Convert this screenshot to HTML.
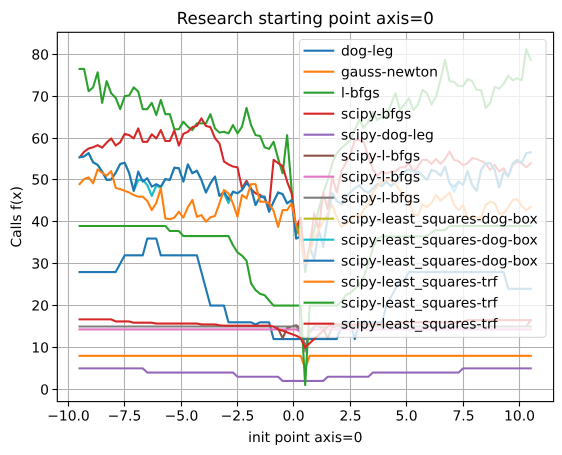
<!DOCTYPE html>
<html>
<head>
<meta charset="utf-8">
<style>
html,body{margin:0;padding:0;background:#fff;width:562px;height:455px;overflow:hidden}
svg{display:block}
text{font-family:"DejaVu Sans","Liberation Sans",sans-serif;fill:#000;text-rendering:geometricPrecision}
</style>
</head>
<body>
<svg id="chart" xmlns="http://www.w3.org/2000/svg" width="562" height="455" viewBox="0 0 562 455">
<rect x="0" y="0" width="562" height="455" fill="#fff"/>
<g id="grid"></g>
<g id="series"></g>
<g id="frame"></g>
<g id="ticks"></g>
<text x="305.3" y="24" font-size="16.67" text-anchor="middle">Research starting point axis=0</text>
<text x="305.3" y="442" font-size="13.89" text-anchor="middle">init point axis=0</text>
<text x="0" y="0" font-size="13.89" text-anchor="middle" transform="translate(21 216.8) rotate(-90)">Calls f(x)</text>
<g id="legend">
<rect x="299.5" y="39.5" width="246.5" height="297.8" rx="3" ry="3" fill="#fff" fill-opacity="0.8" stroke="#ccc" stroke-opacity="0.8" stroke-width="1.1"/>
</g>
</svg>
<script>
const xValues=[-9.5,-9.3,-9.1,-8.9,-8.7,-8.5,-8.3,-8.1,-7.9,-7.7,-7.5,-7.3,-7.1,-6.9,-6.7,-6.5,-6.3,-6.1,-5.9,-5.7,-5.5,-5.3,-5.1,-4.9,-4.7,-4.5,-4.3,-4.1,-3.9,-3.7,-3.5,-3.3,-3.1,-2.9,-2.7,-2.5,-2.3,-2.1,-1.9,-1.7,-1.5,-1.3,-1.1,-0.9,-0.7,-0.5,-0.3,-0.1,0.1,0.3,0.5,0.7,0.9,1.1,1.3,1.5,1.7,1.9,2.1,2.3,2.5,2.7,2.9,3.1,3.3,3.5,3.7,3.9,4.1,4.3,4.5,4.7,4.9,5.1,5.3,5.5,5.7,5.9,6.1,6.3,6.5,6.7,6.9,7.1,7.3,7.5,7.7,7.9,8.1,8.3,8.5,8.7,8.9,9.1,9.3,9.5,9.7,9.9,10.1,10.3,10.5];
const xTickValues=[-10,-7.5,-5,-2.5,0,2.5,5,7.5,10];
const xTickLabels=['−10.0','−7.5','−5.0','−2.5','0.0','2.5','5.0','7.5','10.0'];
const yTickValues=[0,10,20,30,40,50,60,70,80];
const yTickLabels=['0','10','20','30','40','50','60','70','80'];
const seriesNames=['dog-leg','gauss-newton','l-bfgs','scipy-bfgs','scipy-dog-leg','scipy-l-bfgs','scipy-l-bfgs','scipy-l-bfgs','scipy-least_squares-dog-box','scipy-least_squares-dog-box','scipy-least_squares-dog-box','scipy-least_squares-trf','scipy-least_squares-trf','scipy-least_squares-trf'];
const seriesColors=['#1f77b4','#ff7f0e','#2ca02c','#d62728','#9467bd','#8c564b','#e377c2','#7f7f7f','#bcbd22','#17becf','#1f77b4','#ff7f0e','#2ca02c','#d62728'];

const dogLeg=[28,28,28,28,28,28,28,28,28,30,32,32,32,32,32,36,36,36,32,32,32,32,32,32,32,32,32,28,24,20,20,20,20,16,16,16,16,16,16,15.5,16,16,16,12,12,12,12,12,12,12,12,12,12,12,12,12,12,12,15,16,16,12,16,16,16,16,16,16,20,22,24,26,26,28,28,28,28,28,28,28,28,28,28,28,28,28,28,28,28,28,28,28,28,28,28,24,24,24,24,24,24];
const gaussNewton=[8,8,8,8,8,8,8,8,8,8,8,8,8,8,8,8,8,8,8,8,8,8,8,8,8,8,8,8,8,8,8,8,8,8,8,8,8,8,8,8,8,8,8,8,8,8,8,8,8,8,5,8,8,8,8,8,8,8,8,8,8,8,8,8,8,8,8,8,8,8,8,8,8,8,8,8,8,8,8,8,8,8,8,8,8,8,8,8,8,8,8,8,8,8,8,8,8,8,8,8,8];
const lBfgs=[76.5,76.5,71.2,72.1,75.7,68.4,73.6,70.7,69.6,66.9,70,70.2,72.1,71.1,66.9,66.9,68.4,65.5,69.1,65.7,65.7,62.1,62.1,63.9,62.7,61.9,63.5,63.5,63.5,65.7,62.3,61.3,61.5,61.1,63.1,61.1,62.7,67.2,63.1,60.7,60.5,57.8,57.4,59.1,55.1,51.6,60.7,47.6,37,40,28,34,38,43,46.8,50,54,56.4,57.6,58.5,59.5,62,64.3,62.4,64,66.2,64.3,65,65,68,70.7,66.7,68,69.5,66.7,68,71.5,70.7,68,69.9,74,78.7,73.6,73.4,72.4,72.4,74.1,73.6,71.5,71.4,67.2,68.4,72.2,71.8,73,74.9,73.8,74.3,73.8,81.2,78.6];
const scipyBfgs=[55.4,56.7,57.5,57.8,58.3,57.7,58.9,59.9,58.2,59,61,60.7,59.9,62.3,59.1,59.1,60.9,59.9,61.9,59.3,59.3,61.8,58.2,61,61.5,62.6,62.9,64.7,62.9,62.6,60,58.7,54.4,53.7,53.2,53,48,49.8,47.8,46.8,46.4,45.6,43.6,54.8,54,53.3,49.6,46.8,38.5,41,30,34,42,38,47,43,50.7,47,52,54,56,59.5,59.5,59,55.5,52.5,51,52,51.5,52,52,53,53,54,52,53.2,54.8,54.8,53.8,55,53.8,55,56.8,54.8,54.5,53.5,54,55.2,55,54.5,54,52.4,53.6,52,52.8,50.8,53.6,54.4,54,53,54];
const scipyDogLeg=[5,5,5,5,5,5,5,5,5,5,5,5,5,5,5,4,4,4,4,4,4,4,4,4,4,4,4,4,4,4,4,4,4,4,4,3,3,3,3,3,3,3,3,3,3,2,2,2,2,2,2,2,2,2,2,3,3,3,3,3,3,3,3,3,3,4,4,4,4,4,4,4,4,4,4,4,4,4,4,4,4,4,4,4,4,5,5,5,5,5,5,5,5,5,5,5,5,5,5,5,5];
const scipyLBfgsA=[15,15,15,15,15,15,15,15,15,15,15,15,15,15,15,15,15,15,15,15,15,15,15,15,15,15,15,15,15,15,15,15,15,15,15,15,15,15,15,15,15,15,15,15,14.5,12.2,14.6,15,15.3,14.5,10,13.5,15,15,14.5,12.2,14.8,15,15,15,15,15,15,15,15,15,15,15,15,15,15,15,15,15,15,15,15,15,15,15,15,15,15,15,15,15,15,15,15,15,15,15,15,15,15,15,15,15,15,15,16.5];
const scipyLBfgsB=[14.3,14.3,14.3,14.3,14.3,14.3,14.3,14.3,14.3,14.3,14.3,14.3,14.3,14.3,14.3,14.3,14.3,14.3,14.3,14.3,14.3,14.3,14.3,14.3,14.3,14.3,14.3,14.3,14.3,14.3,14.3,14.3,14.3,14.3,14.3,14.3,14.3,14.3,14.3,14.3,14.3,14.3,14.3,14.3,14.3,14.3,14.3,14.3,14.3,13.7,9,13.5,14.3,14.3,14.3,14.3,14.3,14.3,14.3,14.3,14.3,14.3,14.3,14.3,14.3,14.3,14.3,14.3,14.3,14.3,14.3,14.3,14.3,14.3,14.3,14.3,14.3,14.3,14.3,14.3,14.3,14.3,14.3,14.3,14.3,14.3,14.3,14.3,14.3,14.3,14.3,14.3,14.3,14.3,14.3,14.3,14.3,14.3,14.3,14.3,14.3];
const scipyLBfgsC=[15,15,15,15,15,15,15,15,15,15,15,15,15,15,15,15,15,15,15,15,15,15,15,15,15,15,15,15,15,15,15,15,15,15,15,15,15,15,15,15,15,15,15,15,15,15,15,15,15,14,9.5,14,15,15,15,15,15,15,15,15,15,15,15,15,15,15,15,15,15,15,15,15,15,15,15,15,15,15,15,15,15,15,15,15,15,15,15,15,15,15,15,15,15,15,15,15,15,15,15,15,15];
const lsqDogBoxA=[55.4,55.6,56.4,54.2,53.6,52,50,50.1,51.7,53.8,54.1,51.6,47.4,50,50,48.8,46.2,48.6,48.2,50.2,50,52.9,52.8,49.6,53.7,51.6,52.2,50,47,49.2,50.8,46.2,46.8,44.5,47.2,46.8,47.6,49.3,48,44,46,46,42.4,44.8,47,46.6,44.4,45.2,36,36.5,29,34,31,38,34,41,46.9,45,44.2,46,47,48,48.7,47.5,46.9,48,49,48.5,49.6,48.5,49.5,51,52,52.4,52,52,51,50,52.4,52,51,53.2,49.2,47.2,49.6,48.8,52.1,48.8,47.4,52.4,54,54,52.4,48.2,52,50.8,54,54.8,54.1,56.4,56.6];
const lsqDogBoxB=[55.4,55.6,56.4,54.2,53.6,52,50,50.1,51.7,53.8,54.1,51.6,47.4,50,50,48.8,46.2,48.6,48.2,50.2,50,52.9,52.8,49.6,53.7,51.6,52.2,50,47,49.2,50.8,46.2,46.8,44.5,47.2,46.8,47.6,49.3,48,44,46,46,42.4,44.8,47,46.6,44.4,45.2,36,36.5,29,34,31,38,34,41,46.9,45,44.2,46,47,48,48.7,47.5,46.9,48,49,48.5,49.6,48.5,49.5,51,52,52.4,52,52,51,50,52.4,52,51,53.2,49.2,47.2,49.6,48.8,52.1,48.8,47.4,52.4,54,54,52.4,48.2,52,50.8,54,54.8,54.1,56.4,56.6];
const lsqDogBoxC=[55.4,55.6,56.4,54.2,53.6,52,50,50.1,51.7,53.8,54.1,51.6,47.4,52,49.6,50.4,48.4,49,48.4,50.2,50,52.9,52.8,49.6,53.7,51.6,52.2,50,47,49.2,50.8,46.2,47.2,45.4,47.2,46.8,47.6,49.3,48,44,46,46,42.4,44.8,47,46.6,44.4,45.2,36,36.5,29,34,31,38,34,41,46.9,45,44.2,46,47,48,48.7,47.5,46.9,48,49,48.5,49.6,48.5,49.5,51,52,52.4,52,52,51,50,52.4,52,51,53.2,49.2,48.4,49.6,48.8,52.1,48.8,47.4,52.4,54,54,52.4,48.2,52,50.8,54,54.8,54.1,56.4,56.6];
const lsqTrfA=[49,50.2,50.6,49.2,52.5,51.7,51,52.1,48.1,47.8,47.4,47,46.4,46,46,45,42.8,44.5,48,40.8,40.6,41,42.4,41,43.5,45.2,41.2,41.6,40,41.1,41.4,44.4,47.6,46.8,44.4,41.2,46.4,45.6,49,49,44.8,44.8,44.4,42.6,38.8,42.8,42.8,44.4,39.2,36,30,33,36,38,40,42,44,41,38.8,39.5,40.5,41.5,41,43,44,47,48.5,49.5,50,50,49,47.5,46,44.8,41.7,41.5,44.2,43.5,44.5,46.4,45,46,47,44,42.8,44,41,41,41,41,44,44.8,44.5,42,42,43.5,45.2,45.4,43.8,42.8,43.6];
const lsqTrfB=[39,39,39,39,39,39,39,39,39,39,39,39,39,39,39,39,39,39,39,39,37.8,37.8,37.8,36.6,36.6,36.6,36.6,36.6,36.6,36.6,36.6,36.6,36.6,36.6,34.4,32.7,31.9,30.7,25.3,23.7,22.8,22.5,21.2,20,20,20,20,20,20,20,1,20,20,20,20,20,20,20,21,22.5,23,24,25,27,30,33.7,36,36.5,36.5,36.5,36.5,36.5,36.5,36.5,36.5,36.5,36.5,36.5,37.5,38,38,38,39,39,39,39,39,39,39,39,39,39,39,39,39,39,39,39,39,39,39];
const lsqTrfC=[16.7,16.7,16.7,16.7,16.7,16.7,16.7,16.7,16.2,16.2,16.2,16.2,15.9,15.9,15.9,15.9,15.9,15.7,15.7,15.7,15.7,15.7,15.7,15.7,15.7,15.7,15.7,15.5,15.5,15.5,15.5,15.3,15.2,15.2,15.2,15.2,15.2,15.2,15.2,15.2,15.2,15.2,15.2,15,14.3,14,13.6,13.2,12.8,12.2,10,11,12,13,14,15,15.5,15.5,15.5,15.5,15.5,15.5,15.5,15.5,15.5,15.5,15.5,15.5,15.5,15.5,15.5,16,16,16,16,16,16,16,16,16,16,16,16,16,16,16,16.5,16.5,16.5,16.5,16.5,16.5,16.5,16.5,16.5,16.5,16.5,16.5,16.5,16.5,16.5];

const seriesValues=[dogLeg,gaussNewton,lBfgs,scipyBfgs,scipyDogLeg,scipyLBfgsA,scipyLBfgsB,scipyLBfgsC,lsqDogBoxA,lsqDogBoxB,lsqDogBoxC,lsqTrfA,lsqTrfB,lsqTrfC];

const axLeft=57.3,axRight=553.6,axTop=32.3,axBottom=401.6;
function xScale(v){return 293.9+22.56*v;}
function yScale(v){return 389.3-4.1875*v;}
function snap(p){return Math.floor(p)+0.5;}
const NS='http://www.w3.org/2000/svg';
function mk(tag,parent,attrs){
  const el=document.createElementNS(NS,tag);
  for(const k in attrs){el.setAttribute(k,attrs[k]);}
  parent.appendChild(el);
  return el;
}
const gridG=document.getElementById('grid');
const seriesG=document.getElementById('series');
const frameG=document.getElementById('frame');
const ticksG=document.getElementById('ticks');
const legendG=document.getElementById('legend');

xTickValues.forEach(function(v,i){
  const p=snap(xScale(v));
  const g=mk('line',gridG,{x1:p,x2:p,y1:axTop,y2:axBottom,stroke:'#b0b0b0','stroke-width':1.1});
  
  
  const t=mk('line',ticksG,{x1:p,x2:p,y1:axBottom,y2:axBottom+4.9,stroke:'#000','stroke-width':1.1});
  
  
  const l=mk('text',ticksG,{x:p,y:420.5,'font-size':13.89,'text-anchor':'middle'});
  
  
  l.textContent=xTickLabels[i];
});
yTickValues.forEach(function(v,i){
  const p=snap(yScale(v));
  const g=mk('line',gridG,{x1:axLeft,x2:axRight,y1:p,y2:p,stroke:'#b0b0b0','stroke-width':1.1});
  
  
  const t=mk('line',ticksG,{x1:axLeft-4.9,x2:axLeft,y1:p,y2:p,stroke:'#000','stroke-width':1.1});
  
  
  const l=mk('text',ticksG,{x:axLeft-8.3,y:p+5,'font-size':13.89,'text-anchor':'end'});
  
  
  l.textContent=yTickLabels[i];
});
seriesValues.forEach(function(vals,s){
  const pts=vals.map(function(v,i){return xScale(xValues[i]).toFixed(2)+','+yScale(v).toFixed(2);}).join(' ');
  const line=mk('polyline',seriesG,{points:pts,fill:'none',stroke:seriesColors[s],'stroke-width':2.08,'stroke-linejoin':'round','stroke-linecap':'square'});
  
  
});
const spine=mk('rect',frameG,{x:axLeft,y:axTop,width:axRight-axLeft,height:axBottom-axTop,fill:'none',stroke:'#000','stroke-width':1.1});



seriesNames.forEach(function(name,s){
  const cy=50.7+21*s;
  const h=mk('line',legendG,{x1:304.6,x2:333.2,y1:cy,y2:cy,stroke:seriesColors[s],'stroke-width':2.08,'stroke-linecap':'square'});
  
  
  const t=mk('text',legendG,{x:341,y:cy+4.8,'font-size':13.89});
  
  
  t.textContent=name;
});
</script>
</body>
</html>
